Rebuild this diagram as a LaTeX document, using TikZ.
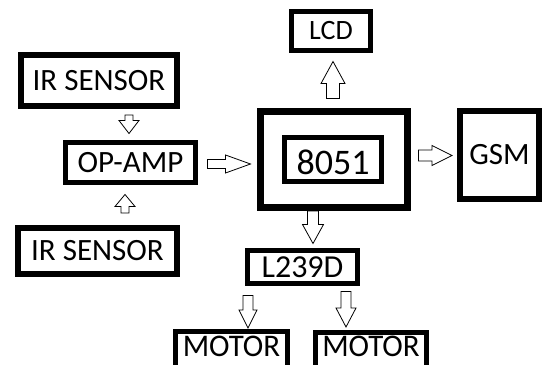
\documentclass[tikz,border=0pt]{standalone}
\usepackage{fontspec}
\setmainfont{Carlito}
\usetikzlibrary{calc}
\tikzset{
  blk/.style={draw=black, fill=white, inner sep=0pt, align=center, text=black,
    font=\fontsize{31}{31}\selectfont},
  txt/.style={inner sep=0pt, text=black, font=\fontsize{30}{30}\selectfont},
  barrow/.style={draw=black, fill=white, line width=0.8pt, line join=miter},
}
\newcommand\blockarr[5]{%
  \path coordinate (tmpH) at ($(#2)!#5pt!(#1)$);
  \draw[barrow] ($(#1)!#3pt!90:(#2)$) -- ($(tmpH)!#3pt!90:(#2)$) -- ($(tmpH)!#4pt!90:(#2)$)
    -- (#2) -- ($(tmpH)!#4pt!-90:(#2)$) -- ($(tmpH)!#3pt!-90:(#2)$) -- ($(#1)!#3pt!-90:(#2)$) -- cycle;}
\begin{document}
\begin{tikzpicture}[x=1pt,y=-1pt]
\clip (0,0) rectangle (543,364);
\fill[white] (0,0) rectangle (543,364);
% boxes
\node[blk, line width=6pt, minimum width=156pt, minimum height=51pt] (ir1) at (99,80.5) {IR SENSOR};
\node[blk, line width=5pt, minimum width=130pt, minimum height=40pt] (op) at (130.5,162.5) {OP-AMP};
\node[blk, line width=6pt, minimum width=159pt, minimum height=46pt] (ir2) at (97.5,251) {IR SENSOR};
\node[blk, line width=7pt, minimum width=147pt, minimum height=96pt] (mcu) at (334,159.5) {};
\node[blk, line width=5pt, minimum width=97pt, minimum height=44pt, text height=30pt, text depth=0pt, font=\fontsize{36}{36}\selectfont] (cpu) at (333,159.5) {8051};
\node[blk, line width=5pt, minimum width=79pt, minimum height=39pt, font=\fontsize{28}{28}\selectfont] (lcd) at (331,31) {LCD};
\node[blk, line width=6pt, minimum width=79pt, minimum height=88pt] (gsm) at (499.5,155) {GSM};
\node[blk, line width=5pt, minimum width=110pt, minimum height=33pt, font=\fontsize{32}{32}\selectfont] (drv) at (302.5,267) {L239D};
% motor boxes (cut by the lower edge)
\node[txt] (m1) at (231.5,346) {\scalebox{1.03}[1.05]{MOTOR}};
\node[txt] (m2) at (371,346) {\scalebox{1.03}[1.05]{MOTOR}};
\draw[line width=5pt] ($(m1)+(-56,28)$) |- ($(m1)+(56,-14.5)$) -- ($(m1)+(56,28)$);
\draw[line width=5pt] ($(m2)+(-55.5,28)$) |- ($(m2)+(55.5,-13.5)$) -- ($(m2)+(55.5,28)$);
\coordinate (m1top) at ($(m1)+(0,-14.5)$);
\coordinate (m2top) at ($(m2)+(0,-13.5)$);
% arrow end points
\coordinate (a1s) at ($(op.north |- ir1.south)+(-1.5,6)$);
\coordinate (a1e) at ($(op.north)+(-1.5,-6.5)$);
\coordinate (a2s) at ($(op.south |- ir2.north)+(-5.5,-12)$);
\coordinate (a2e) at ($(op.south)+(-5.5,9.5)$);
\coordinate (a3s) at ($(op.east)+(9.5,1.5)$);
\coordinate (a3e) at ($(mcu.west |- op.east)+(-6.5,1.5)$);
\coordinate (a4s) at ($(mcu.north)+(-1,-9.5)$);
\coordinate (a4e) at ($(lcd.south)+(2,8.5)$);
\coordinate (a5s) at ($(mcu.east)+(7.5,-4)$);
\coordinate (a5e) at ($(gsm.west |- mcu.east)+(-5,-4)$);
\coordinate (a6s) at ($(mcu.south)+(-21,0)$);
\coordinate (a6e) at ($(drv.north)+(10.5,-4.5)$);
\coordinate (a7s) at ($(drv.south)+(-54.5,9.5)$);
\coordinate (a7e) at ($(m1top)+(16.5,-3.5)$);
\coordinate (a8s) at ($(drv.south)+(43.5,5.5)$);
\coordinate (a8e) at ($(m2top)+(-25,-5.5)$);
% arrows
\blockarr{a1s}{a1e}{4}{10}{13}
\blockarr{a2s}{a2e}{4}{10}{12}
\blockarr{a3s}{a3e}{4.5}{9}{25}
\blockarr{a4s}{a4e}{6.5}{12}{22}
\blockarr{a5s}{a5e}{5.5}{10}{20}
\blockarr{a6s}{a6e}{5.5}{10.5}{19}
\blockarr{a7s}{a7e}{5}{9}{18}
\blockarr{a8s}{a8e}{5}{10}{19}
\end{tikzpicture}
\end{document}
